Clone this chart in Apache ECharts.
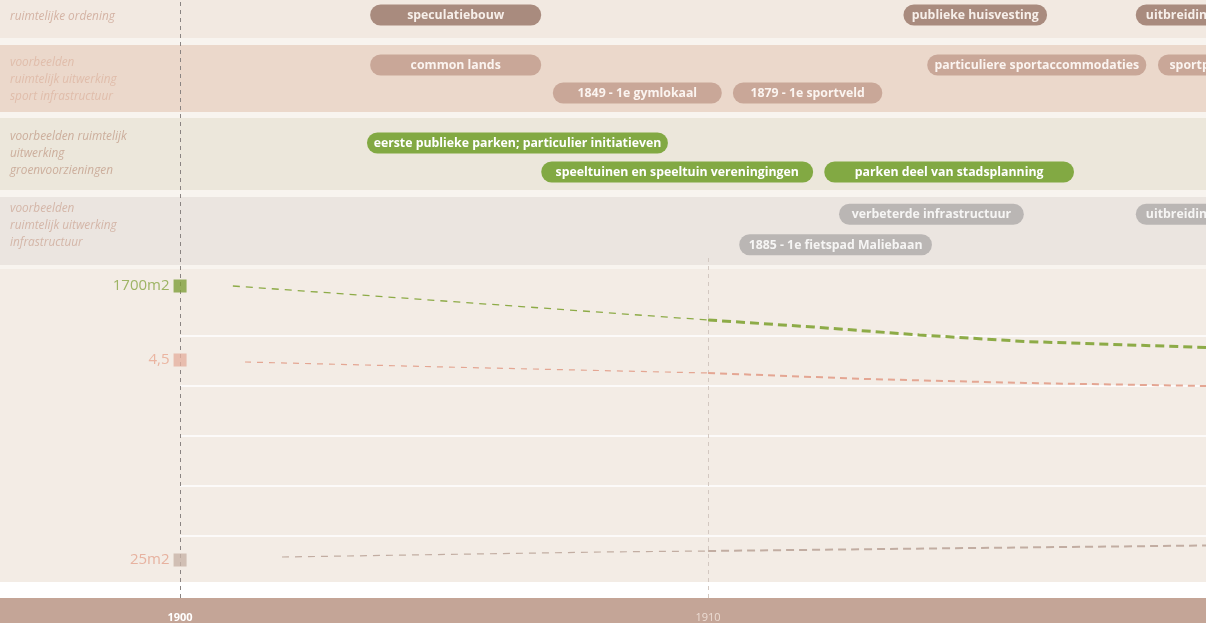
<!DOCTYPE html>
<html><head><meta charset="utf-8">
<script src="https://cdn.jsdelivr.net/npm/echarts@6/dist/echarts.min.js"></script>
<style>html,body{margin:0;padding:0;background:#f8f4ef}#c{width:1206px;height:623px}</style>
</head><body><div id="c"></div>
<script>
// ---------- data ----------
const yearMin = 1896.59, yearMax = 1919.43;
const tickYears = [1900, 1910];

const bandLabels = [
  ['ruimtelijke ordening'],
  ['voorbeelden', 'ruimtelijk uitwerking', 'sport infrastructuur'],
  ['voorbeelden ruimtelijk', 'uitwerking', 'groenvoorzieningen'],
  ['voorbeelden', 'ruimtelijk uitwerking', 'infrastructuur']
];
const oneRow = ['rij 1'];
const twoRows = ['rij 1', 'rij 2'];

// [start year, end year, row, label]
const ordeningBars = [
  [1903.60, 1906.84, 0, 'speculatiebouw'],
  [1913.70, 1916.42, 0, 'publieke huisvesting'],
  [1918.10, 1920.40, 0, 'uitbreidingsplan']
];
const sportBars = [
  [1903.60, 1906.84, 0, 'common lands'],
  [1914.15, 1918.30, 0, 'particuliere sportaccommodaties'],
  [1918.52, 1920.40, 0, 'sportparken'],
  [1907.06, 1910.26, 1, '1849 - 1e gymlokaal'],
  [1910.47, 1913.30, 1, '1879 - 1e sportveld']
];
const groenBars = [
  [1903.54, 1909.24, 0, 'eerste publieke parken; particulier initiatieven'],
  [1906.84, 1911.99, 1, 'speeltuinen en speeltuin vereningingen'],
  [1912.20, 1916.93, 1, 'parken deel van stadsplanning']
];
const infraBars = [
  [1912.48, 1915.98, 0, 'verbeterde infrastructuur'],
  [1918.10, 1920.40, 0, 'uitbreidingsplan'],
  [1910.59, 1914.24, 1, '1885 - 1e fietspad Maliebaan']
];

const markerLabels = ['1700m2', '4,5', '25m2'];
const markerValues = [6.0, 4.52, 0.52];
const greenLine = [[1901.0, 6.0], [1905, 5.70], [1910, 5.32], [1912, 5.18], [1914, 5.02], [1916, 4.89], [1919.43, 4.77]];
const redLine = [[1901.23, 4.48], [1905, 4.38], [1910, 4.26], [1913, 4.14], [1916, 4.06], [1919.43, 4.0]];
const greyLine = [[1901.93, 0.58], [1908, 0.68], [1910, 0.70], [1915, 0.76], [1919.43, 0.81]];
const guideValues = [1, 2, 3, 4, 5];

// ---------- chart ----------
const chart = echarts.init(document.getElementById('c'), null, {renderer: 'canvas'});

function barSeries(bars, gi, color, textColor) {
  return {
    type: 'custom', xAxisIndex: gi, yAxisIndex: gi, clip: true, z: 3,
    encode: {x: [0, 1], y: 2},
    data: bars.map(b => [b[0], b[1], b[2]]),
    renderItem: function (params, api) {
      const s = api.coord([api.value(0), api.value(2)]);
      const e = api.coord([api.value(1), api.value(2)]);
      const h = 21;
      const label = bars[params.dataIndex][3];
      return {
        type: 'group',
        children: [
          {type: 'rect', shape: {x: s[0], y: s[1] - h / 2, width: e[0] - s[0], height: h, r: h / 2},
           style: {fill: color}},
          {type: 'text', x: (s[0] + e[0]) / 2, y: s[1] + 0.5,
           style: {text: label, fill: textColor, font: 'bold 12.3px "Open Sans"', align: 'center', verticalAlign: 'middle'}}
        ]
      };
    }
  };
}

const gridDefs = [
  {left: 0, right: 0, top: 0, height: 30},
  {left: 0, right: 0, top: 51, height: 56},
  {left: 0, right: 0, top: 128.5, height: 58},
  {left: 0, right: 0, top: 199, height: 61},
  {left: 0, right: 0, top: 256, height: 330},
  {left: 0, right: 0, top: 0, height: 598},
  {left: 0, right: 0, top: 254, height: 344}
];

const xAxes = gridDefs.map((g, i) => ({
  type: 'value', gridIndex: i, min: yearMin, max: yearMax, show: i === 4,
  axisLine: {show: false}, axisTick: {show: false}, splitLine: {show: false},
  axisLabel: {
    customValues: tickYears, margin: 26,
    formatter: v => (v === tickYears[0] ? '{a|' + v + '}' : '{b|' + v + '}'),
    rich: {
      a: {color: '#ffffff', fontWeight: 'bold', fontSize: 11, fontFamily: 'Open Sans'},
      b: {color: '#ecdcd3', fontSize: 11, fontFamily: 'Open Sans'}
    }
  }
}));

const yAxes = [
  {type: 'category', gridIndex: 0, data: oneRow, inverse: true, show: false},
  {type: 'category', gridIndex: 1, data: twoRows, inverse: true, show: false},
  {type: 'category', gridIndex: 2, data: twoRows, inverse: true, show: false},
  {type: 'category', gridIndex: 3, data: twoRows, inverse: true, show: false},
  {type: 'value', gridIndex: 4, min: 0, max: 6.6, show: false, splitLine: {show: false}},
  {type: 'value', gridIndex: 5, min: 0, max: 1, show: false, splitLine: {show: false}},
  {type: 'value', gridIndex: 6, min: 0, max: 1, show: false, splitLine: {show: false}}
];

const bgRects = [
  [-10, 48, '#f2e9e1'],
  [45, 67, '#ebd8cb'],
  [118, 72, '#ece7db'],
  [197, 68, '#ebe5e0'],
  [269, 313, '#f3ece5'],
  [582, 16, '#ffffff'],
  [598, 30, '#c4a597']
];
const bandLabelTops = [8.5, 54, 128.5, 200.5];
const bandLabelColors = ['#d4b3a4', '#e0bdab', '#ccae9c', '#d4b6a8'];

const graphics = bgRects.map((r, i) => ({
  type: 'rect', z: -10, silent: true,
  shape: {x: i < 4 ? -6 : 0, y: r[0], width: i < 4 ? 1220 : 1206, height: r[1], r: i < 4 ? 7 : 0},
  style: {fill: r[2]}
})).concat(bandLabels.map((lines, i) => ({
  type: 'text', z: -5, silent: true, x: 10, y: bandLabelTops[i],
  style: {text: lines.join('\n'), font: 'italic 11.8px "Open Sans"', fill: bandLabelColors[i], lineHeight: 17, verticalAlign: 'top'}
})));

function lineSeries(data, color, thinW, thickW, thinDash, thickDash) {
  return [
    {type: 'line', xAxisIndex: 4, yAxisIndex: 4, symbol: 'none', silent: true, z: 5,
     data: data.filter(p => p[0] <= 1910), lineStyle: {color: color, width: thinW, type: thinDash}},
    {type: 'line', xAxisIndex: 4, yAxisIndex: 4, symbol: 'none', silent: true, z: 5,
     data: data.filter(p => p[0] >= 1910), lineStyle: {color: color, width: thickW, type: thickDash}}
  ];
}

const markerColors = ['#7e9f3a', '#e5b1a0', '#c8b4a8'];
const markerTextColors = ['#88a644', '#e8a890', '#e3a48e'];

const guideLineData = guideValues.map(v => [
  {coord: [1900, v], lineStyle: {color: '#ffffff', width: 1.6, type: 'solid'}},
  {coord: [yearMax, v]}
]);

const series = [
  barSeries(ordeningBars, 0, '#a98b7e', '#f7efea'),
  barSeries(sportBars, 1, '#c9a798', '#fbf4f0'),
  barSeries(groenBars, 2, '#82a943', '#ffffff'),
  barSeries(infraBars, 3, '#bab6b4', '#f6f5f4'),
  {type: 'line', xAxisIndex: 4, yAxisIndex: 4, data: [], silent: true, z: 1,
   markLine: {z: 1, symbol: 'none', silent: true, label: {show: false}, animation: false, data: guideLineData}},
  {type: 'line', xAxisIndex: 5, yAxisIndex: 5, data: [], silent: true, z: 2,
   markLine: {z: 2, symbol: 'none', silent: true, label: {show: false}, animation: false,
              lineStyle: {color: '#8a8482', width: 1, type: [4, 4]}, data: [{xAxis: tickYears[0]}]}},
  {type: 'line', xAxisIndex: 6, yAxisIndex: 6, data: [], silent: true, z: 2,
   markLine: {z: 2, symbol: 'none', silent: true, label: {show: false}, animation: false,
              lineStyle: {color: '#d3c8c1', width: 1, type: [4, 4]}, data: [{xAxis: tickYears[1]}]}}
].concat(
  lineSeries(greenLine, '#8dab47', 1.3, 3, [7, 6], [9, 5]),
  lineSeries(redLine, '#e4a693', 1.2, 2, [6, 6], [7, 5]),
  lineSeries(greyLine, '#c2ada2', 1.2, 2, [7, 6], [8, 5])
).concat(markerValues.map((v, i) => ({
  type: 'scatter', xAxisIndex: 4, yAxisIndex: 4, symbol: 'rect', symbolSize: 13, z: 8, silent: true,
  itemStyle: {color: markerColors[i]},
  data: [[tickYears[0], v]],
  label: {show: true, position: 'left', distance: 4, formatter: markerLabels[i],
          color: markerTextColors[i], fontSize: 15, fontFamily: 'Open Sans'}
})));

chart.setOption({
  backgroundColor: '#f8f4ef',
  animation: false,
  grid: gridDefs,
  xAxis: xAxes,
  yAxis: yAxes,
  graphic: graphics,
  series: series
});
</script>
</body></html>
